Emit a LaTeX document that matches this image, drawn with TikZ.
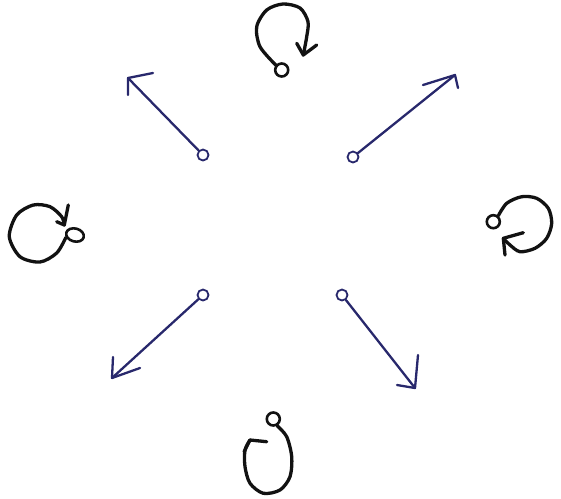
\documentclass[tikz,border=0pt]{standalone}
\usetikzlibrary{shapes.geometric}
\definecolor{navy}{RGB}{40,40,108}
\definecolor{ink}{RGB}{18,18,18}
\tikzset{
  pin/.style={circle, draw=navy, line width=1.8pt, minimum size=11pt, inner sep=0pt},
  shaft/.style={draw=navy, line width=2.3pt, line cap=round, line join=round},
  loopline/.style={draw=ink, line width=3.3pt, line cap=round, line join=round},
  knot/.style={circle, draw=ink, line width=2.6pt, minimum size=13pt, inner sep=0pt},
}
\begin{document}
\begin{tikzpicture}[x=1pt,y=-1pt]
\useasboundingbox (0,0) rectangle (561,498);
% blue arrows
\node[pin] (p1) at (203,155) {};
\coordinate (t1) at (128,78);
\draw[shaft] (p1) -- (t1);
\draw[shaft] ([shift={(25,-5)}]t1) -- (t1) -- ++(0,17);

\node[pin] (p2) at (353,157) {};
\coordinate (t2) at (455,75);
\draw[shaft] (p2) -- (t2);
\draw[shaft] ([shift={(-32,10)}]t2) -- (t2) -- ++(3,13);

\node[pin] (p3) at (203,295) {};
\coordinate (t3) at (112,378);
\draw[shaft] (p3) -- (t3);
\draw[shaft] ([shift={(1,-21)}]t3) -- (t3) -- ++(28,-10);

\node[pin] (p4) at (342,295) {};
\coordinate (t4) at (415,388);
\draw[shaft] (p4) -- (t4);
\draw[shaft] ([shift={(3,-33)}]t4) -- (t4) -- ++(-18,-3);

% black loops
\node[knot] (k1) at (281.7,70) {};
\coordinate (h1) at (303.3,55);
\draw[loopline] plot[smooth] coordinates {(k1.140) (260,46.7) (256.7,26.7) (266.7,10) (283,4) (300,8) (308,21.7) (306.7,36.7) (h1)};
\draw[loopline] ([shift={(-6.6,-11.7)}]h1) -- (h1) -- ++(13.4,-10);

\node[knot, ellipse, minimum width=18pt, minimum height=13pt, rotate=-15] (k2) at (75,235) {};
\coordinate (h2) at (64.3,225);
\draw[loopline] plot[smooth] coordinates {(k2.210) (56.7,253) (40,262) (20,256.7) (9.3,236.7) (16.7,215) (33.3,205) (50,206.7) (61.7,216.7) (h2)};
\draw[loopline] ([shift={(4,-20)}]h2) -- (h2) -- ++(-7.6,-3.3);

\node[knot] (k3) at (493.3,221.7) {};
\coordinate (h3) at (503.3,238.3);
\draw[loopline] plot[smooth] coordinates {(k3.50) (506.7,203.3) (521.7,196.7) (536.7,198.3) (548.3,208.3) (551.7,223.3) (546.7,238.3) (535,248.3) (520,251.7) (510,245) (h3)};
\draw[loopline] ([shift={(20,-5.6)}]h3) -- (h3) -- ++(1.7,16.7);

\node[knot] (k4) at (273.3,419) {};
\coordinate (h4) at (250,440);
\draw[loopline] plot[smooth] coordinates {(k4.300) (286.7,436.7) (291.7,456.7) (290,476.7) (280,490) (263.3,493.3) (250,483.3) (245,466.7) (245,450) (h4)};
\draw[loopline] ([shift={(16.7,1.7)}]h4) -- (h4) -- ++(-6,12);
\end{tikzpicture}
\end{document}
